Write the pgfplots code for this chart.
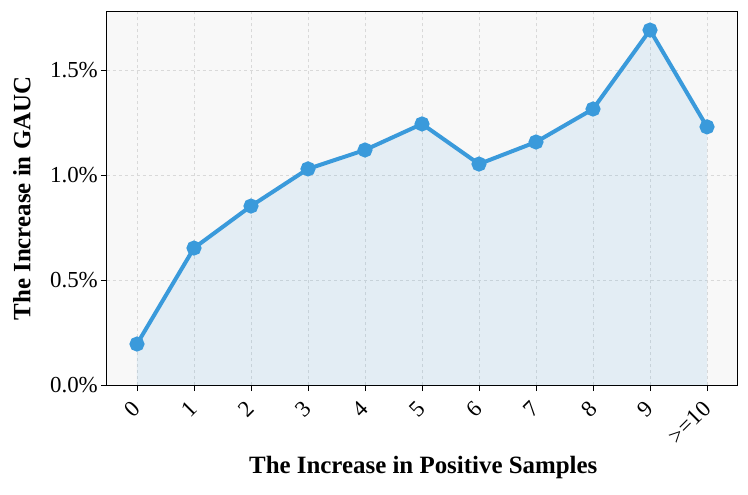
\documentclass[border=0pt]{standalone}
\usepackage{pgfplots}
\pgfplotsset{compat=1.18}
\usepackage{fontspec}
\setmainfont{Liberation Serif}
\definecolor{lineblue}{RGB}{58,154,219}
\definecolor{bgcol}{RGB}{248,248,248}
\begin{document}
\begin{tikzpicture}
\begin{axis}[
  at={(0,0)}, anchor=south west,
  scale only axis, width=630bp, height=373bp,
  xmin=-0.526, xmax=10.526, ymin=0, ymax=1.776,
  axis background/.style={fill=bgcol},
  axis line style={black, line width=1pt},
  xtick={0,...,10},
  xticklabels={0,1,2,3,4,5,6,7,8,9,{>=10}},
  ytick={0,0.5,1.0,1.5},
  yticklabel={\pgfmathprintnumber[fixed,fixed zerofill,precision=1]{\tick}\%},
  /pgf/number format/assume math mode=true,
  xticklabel style={rotate=45, anchor=north east, font=\fontsize{23}{25}\selectfont, inner sep=1pt, xshift=-9bp, yshift=-1bp},
  yticklabel style={font=\fontsize{23}{25}\selectfont, inner sep=3pt},
  tick align=outside, xtick pos=bottom, ytick pos=left,
  major tick length=6bp,
  tick style={black, line width=0.8pt},
  grid=major,
  grid style={dashed, gray!30, line width=0.8pt},
  xlabel={\textbf{The Increase in Positive Samples}},
  ylabel={\textbf{The Increase in GAUC}},
  label style={font=\fontsize{25}{27}\selectfont},
  xlabel style={at={(axis description cs:0.502,-0.22)}, anchor=center},
  ylabel style={at={(axis description cs:-0.135,0.5)}, anchor=center},
]
\addplot[draw=none, fill=lineblue, fill opacity=0.11] coordinates {
(0,0.195) (1,0.652) (2,0.852) (3,1.029) (4,1.119) (5,1.243) (6,1.052) (7,1.157) (8,1.314) (9,1.690) (10,1.229)
} \closedcycle;
\addplot[lineblue, line width=4bp, mark=*, mark size=5.5bp, mark options={fill=lineblue, draw=none}] coordinates {
(0,0.195) (1,0.652) (2,0.852) (3,1.029) (4,1.119) (5,1.243) (6,1.052) (7,1.157) (8,1.314) (9,1.690) (10,1.229)
};
\end{axis}
\pgfresetboundingbox
\path[use as bounding box] (-107bp,-110bp) rectangle (641bp,385bp);
\end{tikzpicture}
\end{document}
